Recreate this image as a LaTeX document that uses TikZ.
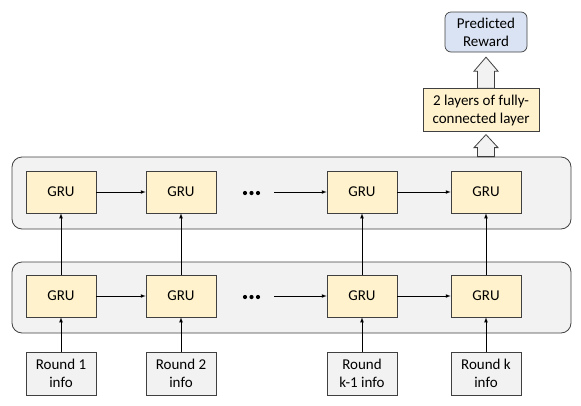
\documentclass[tikz,border=0pt]{standalone}
\usepackage{fontspec}
\setmainfont{Carlito}
\usetikzlibrary{calc,positioning}
\definecolor{gruyellow}{HTML}{FFF2CC}
\definecolor{bandgray}{HTML}{F2F2F2}
\definecolor{rewardblue}{HTML}{DAE3F3}
\definecolor{edgegray}{HTML}{404040}
\tikzstyle{band} = [draw=edgegray, fill=bandgray, rounded corners=10pt, minimum width=559pt, inner sep=0pt, line width=0.8pt]
\tikzstyle{gru} = [draw=edgegray, fill=gruyellow, minimum width=70pt, minimum height=42pt, inner sep=0pt, line width=0.7pt]
\tikzstyle{info} = [draw=edgegray, fill=bandgray, minimum width=70pt, minimum height=43pt, inner sep=0pt, align=center, line width=0.7pt]
\tikzstyle{arrow} = [->,>=latex, line width=0.7pt]
\tikzstyle{fat} = [draw=edgegray, fill=bandgray, line width=0.8pt]

\begin{document}
\begin{tikzpicture}[x=1pt,y=-1pt,font=\fontsize{15}{18}\selectfont]
	\useasboundingbox (0,0) rectangle (581,405);
	% the two layers
	\node[band, minimum height=72pt] (top) at (291.5,193) {};
	\node[band, minimum height=71pt] (bot) at (291.5,297.5) {};
	\foreach \x/\n in {61/1,181/2,362/3,486/4}
	{
	\node[gru] (t\n) at (\x,192) {GRU};
	\node[gru] (b\n) at (\x,296) {GRU};
	}
	\node[info] (r1) at (61,373.5) {Round 1\\info};
	\node[info] (r2) at (181,373.5) {Round 2\\info};
	\node[info] (r3) at (362,373.5) {Round\\k-1 info};
	\node[info] (r4) at (486,373.5) {Round k\\info};
	% dots
	\foreach \d in {245,251.5,258}
	{
	\fill (\d,193) circle (2.1);
	\fill (\d,297) circle (2.1);
	}
	\coordinate (tgap) at (274,192);
	\coordinate (bgap) at (274,296);
	\draw[arrow] (t1) -- (t2);
	\draw[arrow] (tgap) -- (t3);
	\draw[arrow] (t3) -- (t4);
	\draw[arrow] (b1) -- (b2);
	\draw[arrow] (bgap) -- (b3);
	\draw[arrow] (b3) -- (b4);
	\foreach \n in {1,2,3,4}
	{
	\draw[arrow] (r\n) -- (b\n);
	\draw[arrow] (b\n) -- (t\n);
	}
	% output part
	\node[draw=edgegray, fill=gruyellow, minimum width=116pt, minimum height=43pt, inner sep=0pt, align=center, line width=0.7pt] (fc) at (481,110) {2 layers of fully-\\connected layer};
	\node[draw=edgegray, fill=rewardblue, rounded corners=6pt, minimum width=82pt, minimum height=40pt, inner sep=0pt, align=center, line width=0.7pt] (pr) at (486,32) {Predicted\\Reward};
	\draw[fat] ($(top.north -| t4)+(-8.5,0)$) -- ++(0,-9) -- ++(-3.5,0) -- ++(12,-13) -- ++(12,13) -- ++(-3.5,0) -- ++(0,9) -- cycle;
	\draw[fat] ($(fc.north -| t4)+(-8.5,0)$) -- ++(0,-17) -- ++(-3.5,0) -- ++(12,-14) -- ++(12,14) -- ++(-3.5,0) -- ++(0,17) -- cycle;
\end{tikzpicture}
\end{document}
